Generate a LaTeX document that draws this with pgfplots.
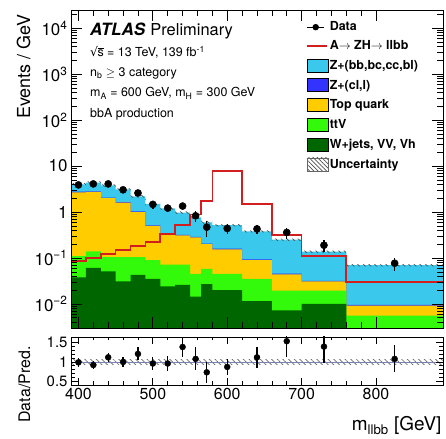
\documentclass[border=0pt]{standalone}
\usepackage{fontspec}
\setmainfont{TeX Gyre Heros}
\newfontfamily\symf{DejaVu Sans}
\usepackage{pgfplots}
\usepackage{pgfplotstable}
\pgfplotsset{compat=1.18}
\usepgfplotslibrary{fillbetween}
\usetikzlibrary{patterns.meta}

\definecolor{zhf}{RGB}{58,200,236}
\definecolor{zlf}{RGB}{51,51,255}
\definecolor{topq}{RGB}{255,204,0}
\definecolor{ttvc}{RGB}{51,250,10}
\definecolor{wvv}{RGB}{0,102,0}
\definecolor{sigc}{RGB}{210,30,30}
\definecolor{bandline}{RGB}{120,128,180}

\pgfplotsset{
  box legend/.style={legend image code/.code={\draw[##1] (0bp,-6.5bp) rectangle (21bp,6.5bp);}},
  seg legend/.style={legend image code/.code={\draw[##1] (0bp,0bp) -- (20bp,0bp);}},
}

% background stack (cumulative, events / GeV), lower bin edges; last row closes the final bin
\pgfplotstableread{
lo   w      ttv     top    zcl     tot    up     dn     sig
390  0.038  0.11    2.7    2.78    4.0    4.24   3.76   0.087
410  0.061  0.14    2.75   2.83    4.4    4.66   4.14   0.10
430  0.051  0.105   2.0    2.06    3.8    4.03   3.57   0.122
450  0.031  0.105   1.6    1.65    3.1    3.29   2.91   0.15
470  0.043  0.105   1.0    1.03    2.2    2.33   2.07   0.185
490  0.035  0.09    0.5    0.515   1.5    1.59   1.41   0.22
510  0.024  0.072   0.33   0.34    1.2    1.27   1.13   0.33
530  0.026  0.072   0.31   0.32    0.97   1.03   0.91   0.53
550  0.0145 0.045   0.28   0.29    0.77   0.82   0.72   0.88
565  0.027  0.058   0.2    0.206   0.6    0.64   0.56   1.76
580  0.020  0.045   0.155  0.16    0.52   0.55   0.49   7.9
620  0.0115 0.035   0.09   0.093   0.38   0.40   0.36   1.5
660  0.0073 0.0195  0.044  0.0455  0.25   0.265  0.235  0.32
700  0.010  0.0195  0.031  0.032   0.137  0.145  0.129  0.11
760  0.001  0.0056  0.0092 0.0095  0.07   0.074  0.066  0.030
890  0.001  0.0056  0.0092 0.0095  0.07   0.074  0.066  0.030
}\bkg

% observed data with ratio to the prediction
\pgfplotstableread{
x      y      ey     r     er
400    3.9    0.43   0.99  0.11
420    4.1    0.45   0.92  0.10
440    4.1    0.45   1.12  0.12
460    3.05   0.40   1.00  0.13
480    2.6    0.36   1.21  0.17
500    1.47   0.28   0.96  0.18
520    1.22   0.24   0.96  0.19
540    1.35   0.26   1.39  0.26
557.5  0.83   0.23   1.08  0.30
572.5  0.47   0.18   0.73  0.28
600    0.44   0.11   0.87  0.21
640    0.43   0.10   1.12  0.27
680    0.36   0.10   1.54  0.42
730    0.19   0.057  1.40  0.42
825    0.077  0.025  1.08  0.35
}\obs

\begin{document}
\begin{tikzpicture}
\path (0,0) rectangle (446bp,438bp);

\begin{axis}[
  at={(71bp,110bp)}, anchor=south west,
  scale only axis, width=372bp, height=318bp,
  xmin=390, xmax=890,
  ymode=log, ymin=0.003, ymax=2.5e4,
  xtick={400,500,600,700,800}, minor x tick num=4, xticklabels={},
  ytick={0.01,0.1,1,10,100,1000,10000},
  yticklabels={10\textsuperscript{−2},10\textsuperscript{−1},1,10,10\textsuperscript{2},10\textsuperscript{3},10\textsuperscript{4}},
  minor ytick={0.003,0.004,0.005,0.006,0.007,0.008,0.009,
    0.02,0.03,0.04,0.05,0.06,0.07,0.08,0.09,
    0.2,0.3,0.4,0.5,0.6,0.7,0.8,0.9,
    2,3,4,5,6,7,8,9,
    20,30,40,50,60,70,80,90,
    200,300,400,500,600,700,800,900,
    2000,3000,4000,5000,6000,7000,8000,9000,20000},
  major tick length=11bp, minor tick length=6bp,
  tick style={black, line width=0.7bp},
  axis line style={line width=0.8bp},
  yticklabel style={font=\fontsize{17}{17}\selectfont},
  axis on top,
  legend cell align=left,
  legend style={at={(0.632,0.967)}, anchor=north west, draw=none, fill=none,
    font=\fontsize{12.5}{13}\selectfont\bfseries, row sep=6bp, inner sep=0pt,
    nodes={inner sep=1.2bp}},
]
\addplot[name path=floor, draw=none, forget plot] coordinates {(390,0.001) (890,0.001)};
\addplot[name path=ltot, draw=none, const plot, forget plot] table[x=lo,y=tot]{\bkg};
\addplot[name path=lzcl, draw=none, const plot, forget plot] table[x=lo,y=zcl]{\bkg};
\addplot[name path=ltop, draw=none, const plot, forget plot] table[x=lo,y=top]{\bkg};
\addplot[name path=lttv, draw=none, const plot, forget plot] table[x=lo,y=ttv]{\bkg};
\addplot[name path=lw, draw=none, const plot, forget plot] table[x=lo,y=w]{\bkg};
% stacked backgrounds, tallest first
\addplot[fill=zhf, draw=none, forget plot] fill between[of=ltot and floor];
\addplot[fill=zlf, draw=none, forget plot] fill between[of=lzcl and floor];
\addplot[fill=topq, draw=none, forget plot] fill between[of=ltop and floor];
\addplot[fill=ttvc, draw=none, forget plot] fill between[of=lttv and floor];
\addplot[fill=wvv, draw=none, forget plot] fill between[of=lw and floor];
% systematic band
\addplot[name path=bup, draw=none, const plot, forget plot] table[x=lo,y=up]{\bkg};
\addplot[name path=bdn, draw=none, const plot, forget plot] table[x=lo,y=dn]{\bkg};
\addplot[pattern={Lines[angle=-45,distance=4bp,line width=0.7bp]}, pattern color=black!70, draw=none, forget plot] fill between[of=bup and bdn];
% signal
\addplot[sigc, line width=1.6bp, const plot, forget plot] table[x=lo,y=sig]{\bkg};
% data
\addplot[only marks, mark=*, mark size=3.6bp, black, forget plot,
  error bars/.cd, y dir=both, y explicit, error mark=none,
  error bar style={line width=1.4bp}]
  table[x=x,y=y,y error=ey]{\obs};

\addlegendimage{black, line width=1.2bp, mark=*, mark size=2.6bp}
\addlegendentry{Data}
\addlegendimage{seg legend, draw=sigc, line width=1.8bp}
\addlegendentry{A$\rightarrow$ ZH$\rightarrow$ llbb}
\addlegendimage{box legend, fill=zhf, draw=black, line width=0.8bp}
\addlegendentry{Z+(bb,bc,cc,bl)}
\addlegendimage{box legend, fill=zlf, draw=black, line width=0.8bp}
\addlegendentry{Z+(cl,l)}
\addlegendimage{box legend, fill=topq, draw=black, line width=0.8bp}
\addlegendentry{Top quark}
\addlegendimage{box legend, fill=ttvc, draw=black, line width=0.8bp}
\addlegendentry{ttV}
\addlegendimage{box legend, fill=wvv, draw=black, line width=0.8bp}
\addlegendentry{W+jets, VV, Vh}
\addlegendimage{box legend, draw=black!60, line width=0.8bp, pattern={Lines[angle=-45,distance=3bp,line width=0.6bp]}, pattern color=black!70}
\addlegendentry{Uncertainty}

\begin{scope}[every node/.style={inner sep=0pt, anchor=base west}]
\node[font=\fontsize{17}{18}\selectfont\bfseries\itshape] at (rel axis cs:0.051,0.919) {ATLAS};
\node[font=\fontsize{16.5}{18}\selectfont] at (rel axis cs:0.213,0.919) {Preliminary};
\node[font=\fontsize{12.5}{14}\selectfont] at (rel axis cs:0.051,0.853) {{\symf √}\kern-0.6bp$\overline{\mbox{s}}$ = 13 TeV, 139 fb\textsuperscript{-1}};
\node[font=\fontsize{12.5}{14}\selectfont] at (rel axis cs:0.051,0.792) {n\textsubscript{b} $\geq$ 3 category};
\node[font=\fontsize{12.5}{14}\selectfont] at (rel axis cs:0.051,0.727) {m\textsubscript{A} = 600 GeV, m\textsubscript{H} = 300 GeV};
\node[font=\fontsize{12.5}{14}\selectfont] at (rel axis cs:0.051,0.663) {bbA production};
\end{scope}
\end{axis}

\begin{axis}[
  at={(71bp,53bp)}, anchor=south west,
  scale only axis, width=372bp, height=48bp,
  xmin=390, xmax=890, ymin=0.4, ymax=1.65,
  xtick={400,500,600,700,800}, minor x tick num=4,
  ytick={0.5,1,1.5}, yticklabels={0.5,1,1.5}, minor y tick num=4,
  major tick length=7bp, minor tick length=3.5bp,
  tick style={black, line width=0.7bp},
  axis line style={line width=0.8bp},
  /pgf/number format/assume math mode=true,
  xticklabel style={font=\fontsize{16}{16}\selectfont},
  yticklabel style={font=\fontsize{15}{15}\selectfont},
  axis on top,
]
\addplot[draw=none, pattern={Lines[angle=-45,distance=4bp,line width=0.7bp]}, pattern color=black!60]
  coordinates {(390,0.94) (890,0.94) (890,1.06) (390,1.06)};
\addplot[bandline, line width=0.8bp] coordinates {(390,1) (890,1)};
\addplot[only marks, mark=*, mark size=3bp, black,
  error bars/.cd, y dir=both, y explicit, error mark=none,
  error bar style={line width=1.3bp}]
  table[x=x,y=r,y error=er]{\obs};
\end{axis}

\node[rotate=90, anchor=base east, font=\fontsize{18}{18}\selectfont] at (30bp,427bp) {Events / GeV};
\node[rotate=90, anchor=base east, font=\fontsize{16}{16}\selectfont] at (30bp,95bp) {Data/Pred.};
\node[anchor=base east, font=\fontsize{19}{19}\selectfont] at (445bp,7bp) {m\textsubscript{llbb} [GeV]};
\end{tikzpicture}
\end{document}
